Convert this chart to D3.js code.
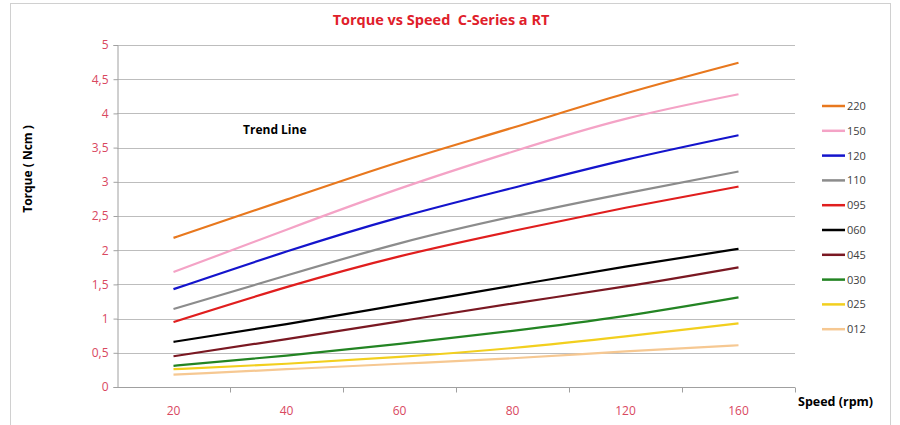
<!DOCTYPE html>
<html><head><meta charset="utf-8">
<script src="https://cdn.jsdelivr.net/npm/d3@7"></script>
<style>
body{margin:0;background:#fff;}
svg{display:block;font-family:"Open Sans","Liberation Sans",Arial,sans-serif;}
</style></head>
<body>
<svg id="chart" width="900" height="425"></svg>
<script>
const speeds = ["20","40","60","80","120","160"];
const yTicks = [0,0.5,1,1.5,2,2.5,3,3.5,4,4.5,5];
const seriesNames = ["220","150","120","110","095","060","045","030","025","012"];
const seriesColors = ["#E8781E","#F4A3C6","#1414CC","#8C8C8C","#E01E1E","#000000","#7A1822","#238423","#F2CF1E","#F6C892"];
const v220 = [2.18,2.74,3.29,3.79,4.29,4.74];
const v150 = [1.68,2.30,2.90,3.44,3.92,4.28];
const v120 = [1.43,1.98,2.48,2.91,3.32,3.68];
const v110 = [1.14,1.63,2.10,2.49,2.83,3.15];
const v095 = [0.95,1.46,1.91,2.28,2.62,2.93];
const v060 = [0.66,0.92,1.20,1.48,1.76,2.02];
const v045 = [0.45,0.70,0.96,1.22,1.47,1.75];
const v030 = [0.31,0.46,0.63,0.82,1.04,1.31];
const v025 = [0.26,0.34,0.44,0.57,0.74,0.93];
const v012 = [0.18,0.26,0.34,0.42,0.52,0.61];
const seriesValues = [v220,v150,v120,v110,v095,v060,v045,v030,v025,v012];

const svg = d3.select("#chart");
const mLeft = 117, mRight = 795, mTop = 45, mBottom = 387;
const x = d3.scaleBand().domain(speeds).range([mLeft, mRight]).padding(0);
const y = d3.scaleLinear().domain([0,5]).range([mBottom, mTop]);

// outer border
svg.append("rect").attr("x",10.5).attr("y",3.5).attr("width",880).attr("height",430)
  .attr("fill","none").attr("stroke","#d0d0d0");

// gridlines
svg.append("g").selectAll("line").data(yTicks.filter(d=>d>0)).join("line")
  .attr("x1",mLeft).attr("x2",mRight).attr("y1",d=>Math.round(y(d))+0.5).attr("y2",d=>Math.round(y(d))+0.5)
  .attr("stroke","#bdbdbd").attr("stroke-width",1);

// y axis
const yAxis = svg.append("g").attr("transform",`translate(${mLeft+0.5},0)`)
  .call(d3.axisLeft(y).tickValues(yTicks).tickSize(4).tickFormat(d=>String(d).replace(".",",")));
yAxis.select(".domain").attr("stroke","#a0a0a0");
yAxis.selectAll(".tick line").attr("stroke","#a0a0a0");
yAxis.selectAll(".tick text").attr("fill","#D9485F").attr("font-size",12).attr("x",-9)
  .attr("font-family","'Open Sans','Liberation Sans',sans-serif");

// x axis with ticks at band boundaries
const xAxisG = svg.append("g").attr("transform",`translate(0,${mBottom+0.5})`);
xAxisG.append("line").attr("x1",mLeft).attr("x2",mRight).attr("y1",0).attr("y2",0).attr("stroke","#a0a0a0");
const bounds = speeds.map(s=>x(s)).concat([x(speeds[speeds.length-1])+x.bandwidth()]).slice(1);
xAxisG.selectAll("line.tk").data(bounds).join("line").attr("class","tk")
  .attr("x1",d=>Math.round(d)+0.5).attr("x2",d=>Math.round(d)+0.5).attr("y1",0).attr("y2",5).attr("stroke","#a0a0a0");
xAxisG.selectAll("text").data(speeds).join("text")
  .attr("x",d=>x(d)+x.bandwidth()/2).attr("y",27).attr("text-anchor","middle")
  .attr("fill","#D9485F").attr("font-size",12).text(d=>d);

// lines
const line = d3.line().x((d,i)=>x(speeds[i])+x.bandwidth()/2).y(d=>y(d)).curve(d3.curveNatural);
svg.append("g").selectAll("path").data(seriesValues).join("path")
  .attr("d",d=>line(d)).attr("fill","none")
  .attr("stroke",(d,i)=>seriesColors[i]).attr("stroke-width",2.2);

// title
svg.append("text").attr("x",441).attr("y",25).attr("text-anchor","middle")
  .attr("font-weight","bold").attr("font-size",14.5).attr("fill","#E0202A")
  .style("white-space","pre")
  .text("Torque vs Speed  C-Series a RT");

// y title
svg.append("text").attr("transform","translate(32,169) rotate(-90)").attr("text-anchor","middle")
  .attr("font-weight","bold").attr("font-size",12).attr("fill","#000").text("Torque ( Ncm )");

// x title
svg.append("text").attr("x",798).attr("y",406).attr("font-weight","bold").attr("font-size",12.5)
  .attr("fill","#000").text("Speed (rpm)");

// annotation
svg.append("text").attr("x",243).attr("y",134).attr("font-weight","bold").attr("font-size",12)
  .attr("fill","#000").text("Trend Line");

// legend
const lg = svg.append("g").selectAll("g").data(seriesNames).join("g")
  .attr("transform",(d,i)=>`translate(822,${106 + i*24.8})`);
lg.append("line").attr("x1",0).attr("x2",23).attr("y1",0).attr("y2",0)
  .attr("stroke",(d,i)=>seriesColors[i]).attr("stroke-width",2.5);
lg.append("text").attr("x",25).attr("y",4).attr("font-size",11).attr("fill","#404040").text(d=>d);
</script>
</body></html>
